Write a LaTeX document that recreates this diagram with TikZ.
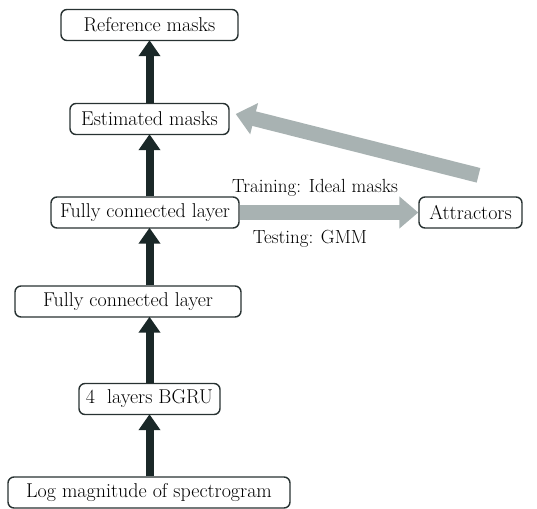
\documentclass[tikz,border=0pt]{standalone}
\definecolor{BoxLine}{RGB}{40, 50, 50}
\definecolor{FlowDark}{RGB}{26, 40, 40}
\definecolor{FlowGrey}{RGB}{168, 178, 178}
\usetikzlibrary{arrows.meta, positioning, calc}

\begin{document}
\begin{tikzpicture}[x=1pt, y=-1pt,
        box/.style={rectangle, rounded corners=6pt, draw=BoxLine, line width=1.4pt, fill=white,
            minimum height=31pt, inner sep=2pt, font=\fontsize{20}{23}\selectfont},
        flow/.style={line width=8pt, FlowDark, -{Triangle[width=21pt, length=16pt]}, shorten >=-1pt},
        bigflow/.style={line width=15pt, FlowGrey, -{Triangle[width=31pt, length=19pt]}},
        lab/.style={font=\fontsize{19}{22}\selectfont}
    ]
        \useasboundingbox (0,0) rectangle (537,508);

        % Stack of layers
        \node[box, minimum width=177pt] (ref) at (149.5, 25) {Reference masks};
        \node[box, minimum width=159pt] (est) at (149.5, 119) {Estimated masks};
        \node[box, minimum width=188pt] (fc1) at (145, 212.5) {Fully connected layer};
        \node[box, minimum width=226pt] (fc2) at (128, 301.5) {Fully connected layer};
        \node[box, minimum width=141pt] (bgru) at (149.5, 399) {4~ layers BGRU};
        \node[box, minimum width=282pt] (logmag) at (149, 492.5) {Log magnitude of spectrogram};

        % Attractors on the right
        \node[box, minimum width=103pt] (attr) at (470.5, 212.5) {Attractors};
        \coordinate (attrtail) at ($(attr.north)+(8,-21)$);

        % Forward path
        \draw[flow] (logmag.north -| bgru.south) -- (bgru.south);
        \draw[flow] (bgru.north) -- (bgru.north |- fc2.south);
        \draw[flow] (bgru.north |- fc2.north) -- (bgru.north |- fc1.south);
        \draw[flow] (bgru.north |- fc1.north) -- (est.south);
        \draw[flow] (est.north) -- (ref.south);

        % Attractor estimation
        \draw[bigflow] (fc1.east) -- (attr.west);
        \node[lab] (train) at (315, 188) {Training: Ideal masks};
        \node[lab] (test) at (310, 239) {Testing: GMM};
        \draw[bigflow] (attrtail) -- ([xshift=6pt, yshift=5pt]est.east);
    \end{tikzpicture}
\end{document}
